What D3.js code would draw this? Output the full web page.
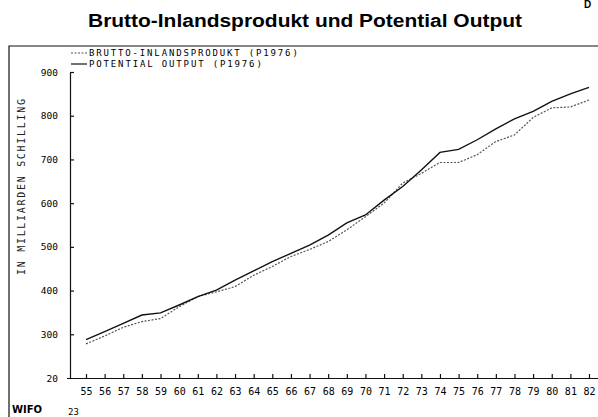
<!DOCTYPE html>
<html>
<head>
<meta charset="utf-8">
<script src="https://cdn.jsdelivr.net/npm/d3@7"></script>
<style>
  body { margin: 0; background: #fff; }
  svg { display: block; }
</style>
</head>
<body>
<div id="chart"></div>
<script>
// years 1955..1982 (labels shown as two digits)
const years = d3.range(55, 83);

// Potential Output (P1976), Mrd. S
const potentialOutput = [288, 306, 325, 344, 349, 367, 386, 401, 424, 445, 466, 485, 504, 527, 555, 573,
    607, 638, 676, 716, 723, 745, 770, 793, 810, 833, 850, 865];

// Brutto-Inlandsprodukt (P1976), Mrd. S
const bip = [278, 296, 316, 329, 336, 363, 386, 397, 409, 435, 455, 478, 494, 512, 539, 569,
    600, 646, 668, 693, 693, 711, 741, 756, 796, 818, 820, 836];

const yTickValues = [200, 300, 400, 500, 600, 700, 800, 900];
const yTickLabels = ["20", "300", "400", "500", "600", "700", "800", "900"];

const width = 598, height = 417;
const mono = "'DejaVu Sans Mono', 'Liberation Mono', monospace";

const svg = d3.select("#chart").append("svg")
    .attr("width", width)
    .attr("height", height);

// title
svg.append("text")
    .attr("x", 88)
    .attr("y", 27)
    .attr("textLength", 434)
    .attr("lengthAdjust", "spacingAndGlyphs")
    .style("font-family", "'Liberation Sans', Arial, sans-serif")
    .style("font-weight", "bold")
    .style("font-size", "18px")
    .text("Brutto-Inlandsprodukt und Potential Output");

// small page mark top right
svg.append("text")
    .attr("x", 584)
    .attr("y", 8)
    .style("font-family", "'Liberation Sans', Arial, sans-serif")
    .style("font-weight", "bold")
    .style("font-size", "10px")
    .text("D");

// outer frame (top + left)
svg.append("path")
    .attr("d", "M9,417 V46 H598")
    .attr("fill", "none")
    .attr("stroke", "#111")
    .attr("stroke-width", 1.2);

const xScale = d3.scaleLinear()
    .domain([55, 82])
    .range([86, 589]);

const yScale = d3.scaleLinear()
    .domain([200, 900])
    .range([378, 72]);

// x axis
const xAxis = d3.axisTop(xScale)
    .tickValues(years)
    .tickSize(4)
    .tickSizeOuter(0)
    .tickFormat(d => d);

const gx = svg.append("g")
    .attr("transform", "translate(0,378)")
    .call(xAxis);
gx.select(".domain").attr("d", "M67,0.5H598");
gx.selectAll("text")
    .attr("y", 17)
    .style("font-family", mono)
    .style("font-size", "10px");

// y axis
const yAxis = d3.axisRight(yScale)
    .tickValues(yTickValues)
    .tickSize(4)
    .tickSizeOuter(0)
    .tickFormat((d, i) => yTickLabels[i]);

const gy = svg.append("g")
    .attr("transform", "translate(70,0)")
    .call(yAxis);
gy.selectAll("text")
    .attr("x", -12)
    .attr("text-anchor", "end")
    .style("font-family", mono)
    .style("font-size", "9.5px");
gy.selectAll(".tick").filter(d => d === 200).select("line").remove();

svg.selectAll(".domain, .tick line").attr("stroke", "#111").attr("stroke-width", 1.2);

// y axis title
svg.append("text")
    .attr("transform", "translate(25,187) rotate(-90)")
    .attr("text-anchor", "middle")
    .attr("textLength", 176)
    .attr("lengthAdjust", "spacing")
    .style("font-family", mono)
    .style("font-size", "10px")
    .style("fill", "#222")
    .text("IN MILLIARDEN SCHILLING");

// lines
const line = d3.line()
    .x((d, i) => xScale(years[i]))
    .y(d => yScale(d));

svg.append("path")
    .datum(bip)
    .attr("d", line)
    .attr("fill", "none")
    .attr("stroke", "#555")
    .attr("stroke-width", 1.2)
    .attr("stroke-dasharray", "2,1.5");

svg.append("path")
    .datum(potentialOutput)
    .attr("d", line)
    .attr("fill", "none")
    .attr("stroke", "#111")
    .attr("stroke-width", 1.4);

// legend
const legend = [
    {label: "BRUTTO-INLANDSPRODUKT (P1976)", dash: "2,1.5", color: "#555", y: 56},
    {label: "POTENTIAL OUTPUT (P1976)", dash: null, color: "#111", y: 67}
];
const lg = svg.selectAll(".legend").data(legend).enter().append("g").attr("class", "legend");
lg.append("line")
    .attr("x1", 71).attr("x2", 87)
    .attr("y1", d => d.y - 3).attr("y2", d => d.y - 3)
    .attr("stroke", d => d.color)
    .attr("stroke-width", 1.2)
    .attr("stroke-dasharray", d => d.dash);
lg.append("text")
    .attr("x", 89)
    .attr("y", d => d.y)
    .attr("textLength", d => d.label.length * 7.2)
    .attr("lengthAdjust", "spacing")
    .style("font-family", mono)
    .style("font-size", "9px")
    .text(d => d.label);

// footer marks
svg.append("text")
    .attr("x", 12)
    .attr("y", 413)
    .style("font-family", "'DejaVu Sans', sans-serif")
    .style("font-weight", "bold")
    .style("font-size", "10px")
    .text("WIFO");
svg.append("text")
    .attr("x", 68)
    .attr("y", 415)
    .style("font-family", mono)
    .style("font-size", "9px")
    .text("23");
</script>
</body>
</html>
